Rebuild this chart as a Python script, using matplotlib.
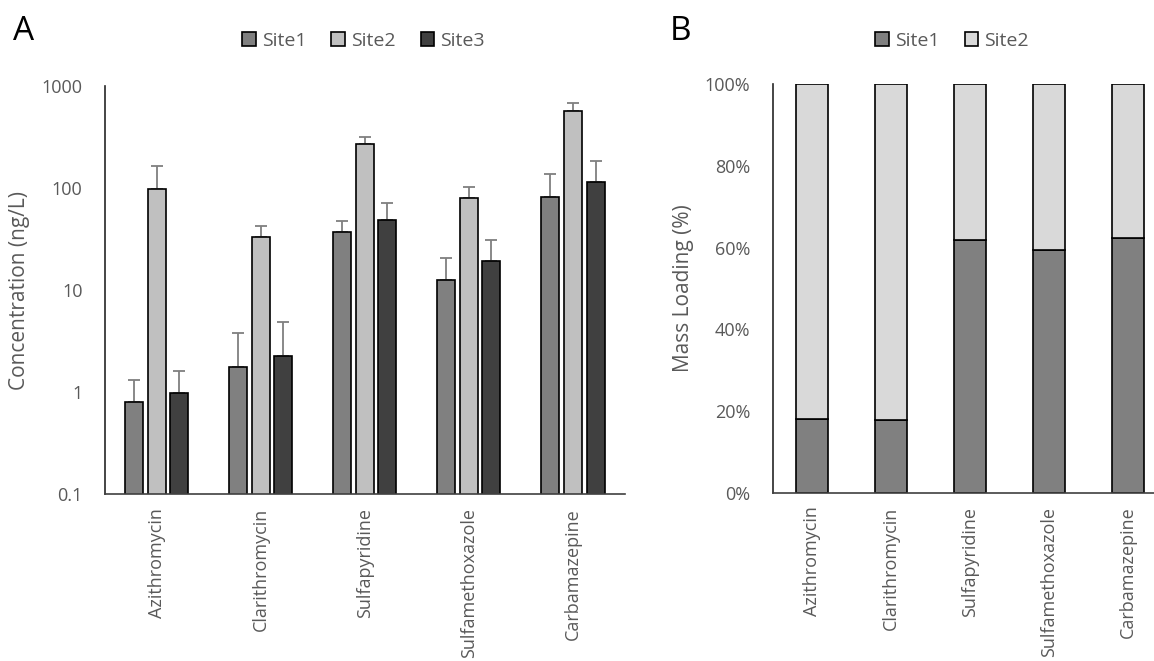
import numpy as np
import matplotlib
matplotlib.use('Agg')
from matplotlib import pyplot as plt

plt.rcParams['font.family'] = ['Open Sans', 'DejaVu Sans']

compounds = ['Azithromycin', 'Clarithromycin', 'Sulfapyridine', 'Sulfamethoxazole', 'Carbamazepine']

# panel A: concentration (ng/L) and top of error bar
site1 = [0.79, 1.76, 37, 12.4, 82]
site2 = [98, 33, 272, 79, 565]
site3 = [0.98, 2.27, 49, 19.2, 115]
site1_err_top = [1.31, 3.76, 48, 20.6, 137]
site2_err_top = [164, 42.7, 316, 102, 676]
site3_err_top = [1.62, 4.85, 71, 31, 184]

# panel B: mass loading fraction for site1 (rest is site2)
site1_frac = [0.181, 0.178, 0.619, 0.595, 0.623]

grey_txt = '#595959'

fig = plt.figure(figsize=(11.54, 6.61), dpi=100)

# ---- panel A
ax1 = fig.add_axes([0.0907, 0.2526, 0.4509, 0.6173])
x = np.arange(len(compounds))
w = 0.173
off = 0.217
series = [(site1, site1_err_top, '#808080', 'Site1'),
          (site2, site2_err_top, '#c0c0c0', 'Site2'),
          (site3, site3_err_top, '#404040', 'Site3')]
for i, (vals, tops, col, lab) in enumerate(series):
    vals = np.array(vals)
    up = np.array(tops) - vals
    xx = x + (i - 1) * off
    ax1.bar(xx, vals, w, color=col, edgecolor='black', linewidth=1.2, label=lab, zorder=2)
    ax1.errorbar(xx, vals, yerr=[np.zeros_like(vals), up], fmt='none',
                 ecolor='#7f7f7f', elinewidth=1.3, capsize=4, capthick=1.3, zorder=1)
ax1.set_yscale('log')
ax1.set_ylim(0.1, 1000)
ax1.set_xlim(-0.5, 4.5)
ax1.set_yticks([0.1, 1, 10, 100, 1000])
ax1.set_yticklabels(['0.1', '1', '10', '100', '1000'])
ax1.minorticks_off()
ax1.set_xticks(x)
ax1.set_xticklabels(compounds, rotation=90)
ax1.set_ylabel('Concentration (ng/L)', color=grey_txt, fontsize=15, labelpad=8)
ax1.legend(loc='center', bbox_to_anchor=(0.315, 0.938), bbox_transform=fig.transFigure,
           ncol=3, frameon=False, handlelength=0.7, handleheight=0.7,
           handletextpad=0.3, columnspacing=1.3, fontsize=14, labelcolor=grey_txt)

# ---- panel B
ax2 = fig.add_axes([0.6696, 0.2546, 0.3423, 0.6179])
frac1 = np.array(site1_frac)
frac2 = 1 - frac1
ax2.bar(x, frac1, 0.41, color='#808080', edgecolor='black', linewidth=1.2, label='Site1')
ax2.bar(x, frac2, 0.41, bottom=frac1, color='#d9d9d9', edgecolor='black', linewidth=1.2, label='Site2')
ax2.set_ylim(0, 1)
ax2.set_xlim(-0.5, 4.5)
ax2.set_yticks(np.arange(0, 1.01, 0.2))
ax2.set_yticklabels(['0%', '20%', '40%', '60%', '80%', '100%'])
ax2.set_xticks(x)
ax2.set_xticklabels(compounds, rotation=90)
ax2.set_ylabel('Mass Loading (%)', color=grey_txt, fontsize=15, labelpad=8)
ax2.legend(loc='center', bbox_to_anchor=(0.825, 0.938), bbox_transform=fig.transFigure,
           ncol=2, frameon=False, handlelength=0.7, handleheight=0.7,
           handletextpad=0.3, columnspacing=1.3, fontsize=14, labelcolor=grey_txt)

for ax in [ax1, ax2]:
    for s in ['top', 'right']:
        ax.spines[s].set_visible(False)
    ax.spines['left'].set_color('#262626')
    ax.spines['bottom'].set_color('#404040')
    ax.spines['left'].set_linewidth(1.2)
    ax.spines['bottom'].set_linewidth(1.2)
    ax.tick_params(axis='both', length=0, labelsize=13, labelcolor=grey_txt)
    ax.tick_params(axis='y', pad=16)
    ax.tick_params(axis='x', pad=10)

fig.text(0.011, 0.953, 'A', fontsize=24, va='center')
fig.text(0.580, 0.953, 'B', fontsize=24, va='center')

fig.savefig('out.png', dpi=100)
